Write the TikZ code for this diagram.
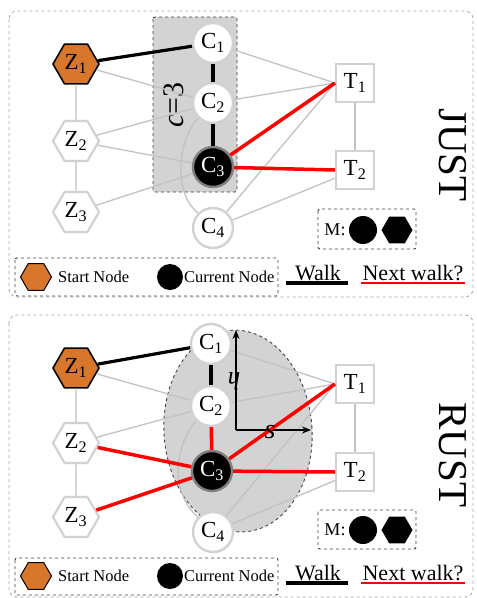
\documentclass[tikz,border=0pt]{standalone}
\usepackage{fontspec}
\setmainfont{Liberation Serif}
\usetikzlibrary{shapes.geometric,arrows.meta}

\begin{document}
\begin{tikzpicture}[x=1pt,y=-1pt,
  hexnode/.style={regular polygon, regular polygon sides=6, minimum size=46pt, inner sep=0pt,
    draw=nodegray, line width=2.2pt, fill=white, font=\fontsize{23}{23}\selectfont},
  startnode/.style={hexnode, draw=black, line width=1.6pt, fill=startorange},
  cnode/.style={circle, minimum size=40pt, inner sep=0pt, draw=nodegray, line width=2.4pt,
    fill=white, font=\fontsize{23}{23}\selectfont},
  curnode/.style={cnode, fill=black, text=white, draw=gray},
  tnode/.style={rectangle, minimum size=38pt, inner sep=0pt, draw=nodegray, line width=2.2pt,
    fill=white, font=\fontsize{23}{23}\selectfont},
  gedge/.style={draw=edgegray, line width=1.3pt},
  bedge/.style={draw=black, line width=3.2pt},
  redge/.style={draw=red, line width=3.5pt},
  frame/.style={draw=framegray, dashed, line width=0.8pt, rounded corners=8pt},
  legendbox/.style={draw=darkgray, dashed, line width=0.9pt, rounded corners=2pt},
  legendtext/.style={inner sep=0pt, font=\fontsize{16.5}{16.5}\selectfont},
  walktext/.style={inner sep=1pt, font=\fontsize{22}{22}\selectfont},
  bigtext/.style={inner sep=0pt, font=\fontsize{41}{41}\selectfont},
  axis/.style={-{Stealth[length=9pt,width=7pt]}, line width=1.8pt},
  ]
\definecolor{startorange}{HTML}{D8772C}
\definecolor{nodegray}{HTML}{D2D2D2}
\definecolor{edgegray}{HTML}{C2C2C2}
\definecolor{boxgray}{HTML}{D3D3D3}
\definecolor{framegray}{HTML}{A8A8A8}
\useasboundingbox (0,0) rectangle (477,598);

% JUST panel
\draw[frame] (9,11) rectangle (473,297);
\draw[legendbox, fill=boxgray] (153,17) rectangle (237,192);
\node[rotate=90, inner sep=0pt, font=\fontsize{30}{30}\selectfont] (0_c) at (174,105) {\textit{c}=3};

\node[startnode] (0_z1) at (76,64) {Z\textsubscript{1}};
\node[hexnode] (0_z2) at (76,141) {Z\textsubscript{2}};
\node[hexnode] (0_z3) at (76,212) {Z\textsubscript{3}};
\node[cnode] (0_c1) at (213,43) {C\textsubscript{1}};
\node[cnode] (0_c2) at (213,103) {C\textsubscript{2}};
\node[curnode] (0_c3) at (213,167) {C\textsubscript{3}};
\node[cnode] (0_c4) at (213,228) {C\textsubscript{4}};
\node[tnode] (0_t1) at (355,83) {T\textsubscript{1}};
\node[tnode] (0_t2) at (355,170) {T\textsubscript{2}};

\draw[gedge] (0_z1) -- (0_z2);
\draw[gedge] (0_z2) -- (0_z3);
\draw[gedge] (0_z1) -- (0_c2);
\draw[gedge] (0_z2) -- (0_c2);
\draw[gedge] (0_z2) -- (0_c3);
\draw[gedge] (0_z3) -- (0_c3);
\draw[gedge] (0_c2.south west) .. controls (175,145) and (175,195) .. (0_c4.north west);
\draw[gedge] (0_c1) -- (0_t1.west);
\draw[gedge] (0_c2) -- (0_t1.west);
\draw[gedge] (0_c4) -- (0_t1.west);
\draw[gedge] (0_c4) -- (0_t2);
\draw[gedge] (0_t1) -- (0_t2);
\draw[bedge] (0_z1) -- (0_c1);
\draw[bedge] (0_c1) -- (0_c2);
\draw[bedge] (0_c2) -- (0_c3);
\draw[redge] (0_c3) -- (0_t1.west);
\draw[redge] (0_c3) -- (0_t2.west);

\node[bigtext, rotate=-90] (0_name) at (453,155) {JUST};

\draw[legendbox] (318,209) rectangle (416,249);
\node[inner sep=0pt, font=\fontsize{18}{18}\selectfont] (0_m) at (335,230) {M:};
\node[circle, fill=black, minimum size=28pt, inner sep=0pt] (0_mc) at (363,230) {};
\node[regular polygon, regular polygon sides=6, fill=black, minimum size=31pt, inner sep=0pt] (0_mh) at (397,230) {};

\draw[legendbox] (15,258) rectangle (278,296);
\node[regular polygon, regular polygon sides=6, fill=startorange, draw=black, line width=1pt,
  minimum size=31pt, inner sep=0pt] (0_lh) at (36,277) {};
\node[legendtext, anchor=west] (0_ls) at (58,277) {Start Node};
\node[circle, fill=black, minimum size=26pt, inner sep=0pt] (0_lc) at (170,277) {};
\node[legendtext, anchor=west] (0_lt) at (184,277) {Current Node};
\node[walktext] (0_walk) at (318,273) {Walk};
\node[walktext] (0_next) at (413,273) {Next walk?};
\draw[bedge] ([xshift=-8pt,yshift=-1pt]0_walk.south west) -- ([xshift=6pt,yshift=-1pt]0_walk.south east);
\draw[draw=red, line width=2.5pt] ([yshift=-1pt]0_next.south west) -- ([yshift=-1pt]0_next.south east);

% RUST panel
\draw[frame] (9,315) rectangle (473,597);
\draw[legendbox, fill=boxgray, rounded corners=0pt] (238,431) ellipse [x radius=74, y radius=101, rotate=4];

\node[startnode] (1_z1) at (76,368) {Z\textsubscript{1}};
\node[hexnode] (1_z2) at (76,443) {Z\textsubscript{2}};
\node[hexnode] (1_z3) at (76,517) {Z\textsubscript{3}};
\node[cnode] (1_c1) at (211,344) {C\textsubscript{1}};
\node[cnode] (1_c2) at (211,406) {C\textsubscript{2}};
\node[curnode] (1_c3) at (212,471) {C\textsubscript{3}};
\node[cnode] (1_c4) at (213,532) {C\textsubscript{4}};
\node[tnode] (1_t1) at (355,384) {T\textsubscript{1}};
\node[tnode] (1_t2) at (355,472) {T\textsubscript{2}};

\coordinate (1_o) at (236,430);
\coordinate (1_up) at (236,330);
\coordinate (1_right) at (311,430);

\draw[gedge] (1_z1) -- (1_z2);
\draw[gedge] (1_z2) -- (1_z3);
\draw[gedge] (1_z1) -- (1_c2);
\draw[gedge] (1_z2) -- (1_c2);
\draw[gedge] (1_c2.south west) .. controls (172,450) and (172,495) .. (1_c4.north west);
\draw[gedge] (1_c1) -- (1_t1.west);
\draw[gedge] (1_c2) -- (1_t1.west);
\draw[gedge] (1_c4) -- (1_t1.west);
\draw[gedge] (1_c4) -- (1_t2);
\draw[gedge] (1_t1) -- (1_t2);
\draw[bedge] (1_z1) -- (1_c1);
\draw[bedge] (1_c1) -- (1_c2);
\draw[axis] (1_o) -- (1_up);
\draw[axis] (1_o) -- (1_right);
\draw[redge] (1_c2) -- (1_c3);
\draw[redge] (1_z2) -- (1_c3);
\draw[redge] (1_z3) -- (1_c3);
\draw[redge] (1_c3) -- (1_t1.west);
\draw[redge] (1_c3) -- (1_t2.west);
\node[rotate=180, inner sep=0pt, font=\fontsize{25}{25}\selectfont] (1_h) at (234,381) {\textit{h}};
\node[inner sep=0pt, font=\fontsize{28}{28}\selectfont] (1_s) at (270,432) {\textit{s}};

\node[bigtext, rotate=-90] (1_name) at (453,455) {RUST};

\draw[legendbox] (318,510) rectangle (416,549);
\node[inner sep=0pt, font=\fontsize{18}{18}\selectfont] (1_m) at (335,530) {M:};
\node[circle, fill=black, minimum size=28pt, inner sep=0pt] (1_mc) at (363,530) {};
\node[regular polygon, regular polygon sides=6, fill=black, minimum size=31pt, inner sep=0pt] (1_mh) at (397,530) {};

\draw[legendbox] (15,558) rectangle (278,595);
\node[regular polygon, regular polygon sides=6, fill=startorange, draw=black, line width=1pt,
  minimum size=31pt, inner sep=0pt] (1_lh) at (36,576) {};
\node[legendtext, anchor=west] (1_ls) at (58,576) {Start Node};
\node[circle, fill=black, minimum size=26pt, inner sep=0pt] (1_lc) at (170,576) {};
\node[legendtext, anchor=west] (1_lt) at (184,576) {Current Node};
\node[walktext] (1_walk) at (318,573) {Walk};
\node[walktext] (1_next) at (413,573) {Next walk?};
\draw[bedge] ([xshift=-8pt,yshift=-1pt]1_walk.south west) -- ([xshift=6pt,yshift=-1pt]1_walk.south east);
\draw[draw=red, line width=2.5pt] ([yshift=-1pt]1_next.south west) -- ([yshift=-1pt]1_next.south east);

\end{tikzpicture}
\end{document}
